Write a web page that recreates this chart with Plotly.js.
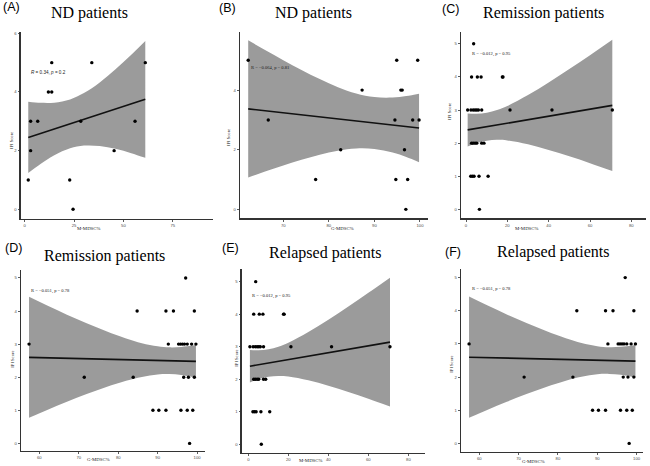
<!DOCTYPE html>
<html><head><meta charset="utf-8">
<script src="https://cdn.plot.ly/plotly-3.0.1.min.js"></script>
<style>html,body{margin:0;padding:0;background:#fff}#chart{width:650px;height:466px}</style>
</head><body><div id="chart"></div>
<script>
// ---------- data ----------
const panelLabels = ["(A)", "(B)", "(C)", "(D)", "(E)", "(F)"];
const panelTitles = ["ND patients", "ND patients", "Remission patients", "Remission patients", "Relapsed patients", "Relapsed patients"];
const xTitles = ["M-MDSC%", "G-MDSC%", "M-MDSC%", "G-MDSC%", "M-MDSC%", "G-MDSC%"];
const yTitle = "IPI Score";
const corrTexts = ["<i>R</i> = 0.34, <i>p</i> = 0.2", "R = \u22120.064, p = 0.81", "R = \u22120.012, p = 0.95",
                   "R = \u22120.051, p = 0.78", "R = \u22120.012, p = 0.95", "R = \u22120.051, p = 0.78"];

// A: ND, M-MDSC
const ndM_x = [1.8, 3.0, 3.0, 6.6, 12.0, 13.7, 13.7, 22.8, 24.5, 28.4, 34.0, 45.3, 55.9, 61.1];
const ndM_y = [1, 3, 2, 3, 4, 4, 5, 1, 0, 3, 5, 2, 3, 5];
const fitA_x = [1.8, 61.1], fitA_y = [2.45, 3.75];
const bandA_x = [1.8, 8, 15, 23, 30, 38, 46, 54, 61.1];
const bandA_hi = [3.665, 3.630, 3.636, 3.747, 3.963, 4.327, 4.774, 5.271, 5.740];
const bandA_lo = [1.235, 1.542, 1.842, 2.081, 2.173, 2.159, 2.062, 1.915, 1.758];

// B: ND, G-MDSC
const ndG_x = [62.3, 66.7, 77.1, 82.6, 87.3, 94.5, 94.9, 94.7, 95.8, 96.1, 96.6, 96.9, 97.3, 98.4, 99.5, 99.8];
const ndG_y = [5, 3, 1, 2, 4, 3, 5, 1, 4, 4, 2, 0, 1, 3, 5, 3];
const fitB_x = [62.3, 99.8], fitB_y = [3.37, 2.73];
const bandB_x = [62.3, 66, 70, 74, 78, 82, 86, 90, 94, 97, 99.8];
const bandB_hi = [5.67, 5.347, 5.005, 4.676, 4.370, 4.099, 3.887, 3.766, 3.751, 3.800, 3.880];
const bandB_lo = [1.07, 1.267, 1.473, 1.664, 1.835, 1.969, 2.044, 2.028, 1.907, 1.756, 1.580];

// C: Remission, M-MDSC
const remM_x = [3.7, 2.7, 5.5, 7.3, 17.6, 17.9, 0.8, 2.4, 3.5, 4.4, 5.2, 6.0, 7.6, 21.3, 41.6, 70.8, 2.7, 3.5, 4.4, 5.2, 7.6, 8.7, 2.3, 3.1, 3.9, 6.3, 10.7, 6.5];
const remM_y = [5, 4, 4, 4, 4, 4, 3, 3, 3, 3, 3, 3, 3, 3, 3, 3, 2, 2, 2, 2, 2, 2, 1, 1, 1, 1, 1, 0];
const fitC_x = [0.8, 70.8], fitC_y = [2.40, 3.14];
const bandC_x = [0.8, 5, 10.1, 15, 20, 30, 40, 50, 60, 70.8];
const bandC_hi = [2.899, 2.890, 2.920, 2.999, 3.123, 3.452, 3.832, 4.237, 4.656, 5.122];
const bandC_lo = [1.901, 1.998, 2.076, 2.101, 2.083, 1.966, 1.796, 1.603, 1.396, 1.158];

// D: Remission, G-MDSC
const remG_x = [97.1, 84.8, 92.1, 94.0, 99.3, 57.4, 92.7, 95.3, 95.8, 96.3, 96.8, 97.5, 98.6, 99.7, 71.4, 83.8, 96.6, 97.8, 99.3, 88.8, 90.3, 92.1, 95.9, 97.5, 98.9, 98.1];
const remG_y = [5, 4, 4, 4, 4, 3, 3, 3, 3, 3, 3, 3, 3, 3, 2, 2, 2, 2, 2, 1, 1, 1, 1, 1, 1, 0];
const fitD_x = [57.4, 99.7], fitD_y = [2.60, 2.48];
const bandD_x = [57.4, 62, 67, 72, 77, 82, 86, 90, 93, 96, 99.7];
const bandD_hi = [4.428, 4.164, 3.889, 3.629, 3.386, 3.170, 3.028, 2.932, 2.902, 2.914, 2.970];
const bandD_lo = [0.772, 1.010, 1.257, 1.489, 1.702, 1.890, 2.010, 2.084, 2.096, 2.068, 1.990];

// E: Relapsed, M-MDSC
const relM_x = [3.7, 2.7, 5.5, 7.3, 17.6, 17.9, 0.8, 2.4, 3.5, 4.4, 5.2, 6.0, 7.6, 21.3, 41.6, 70.8, 2.7, 3.5, 4.4, 5.2, 7.6, 8.7, 2.3, 3.1, 3.9, 6.3, 10.7, 6.5];
const relM_y = [5, 4, 4, 4, 4, 4, 3, 3, 3, 3, 3, 3, 3, 3, 3, 3, 2, 2, 2, 2, 2, 2, 1, 1, 1, 1, 1, 0];
const fitE_x = [0.8, 70.8], fitE_y = [2.40, 3.14];
const bandE_x = [0.8, 5, 10.1, 15, 20, 30, 40, 50, 60, 70.8];
const bandE_hi = [2.899, 2.890, 2.920, 2.999, 3.123, 3.452, 3.832, 4.237, 4.656, 5.122];
const bandE_lo = [1.901, 1.998, 2.076, 2.101, 2.083, 1.966, 1.796, 1.603, 1.396, 1.158];

// F: Relapsed, G-MDSC
const relG_x = [97.1, 84.8, 92.1, 94.0, 99.3, 57.4, 92.7, 95.3, 95.8, 96.3, 96.8, 97.5, 98.6, 99.7, 71.4, 83.8, 96.6, 97.8, 99.3, 88.8, 90.3, 92.1, 95.9, 97.5, 98.9, 98.1];
const relG_y = [5, 4, 4, 4, 4, 3, 3, 3, 3, 3, 3, 3, 3, 3, 2, 2, 2, 2, 2, 1, 1, 1, 1, 1, 1, 0];
const fitF_x = [57.4, 99.7], fitF_y = [2.60, 2.48];
const bandF_x = [57.4, 62, 67, 72, 77, 82, 86, 90, 93, 96, 99.7];
const bandF_hi = [4.428, 4.164, 3.889, 3.629, 3.386, 3.170, 3.028, 2.932, 2.902, 2.914, 2.970];
const bandF_lo = [0.772, 1.010, 1.257, 1.489, 1.702, 1.890, 2.010, 2.084, 2.096, 2.068, 1.990];

// tick labels
const xTicks = [[0, 25, 50, 75], [70, 80, 90, 100], [0, 20, 40, 60, 80], [60, 70, 80, 90, 100], [0, 20, 40, 60, 80], [60, 70, 80, 90, 100]];
const yTicks = [[0, 2, 4, 6], [0, 2, 4], [0, 1, 2, 3, 4, 5], [0, 1, 2, 3, 4, 5], [0, 1, 2, 3, 4, 5], [0, 1, 2, 3, 4, 5]];

// ---------- layout geometry (pixels) ----------
const W = 650, H = 466;
const boxes = [ // [left, right, top, bottom]
  [20.7, 213, 31.7, 219], [240, 428, 31.7, 218.3], [461, 646, 31.7, 218.3],
  [21, 205, 270, 451], [241.7, 425, 269.3, 452.7], [461, 643.3, 269.3, 451.7]];
const xRanges = [[-2.03, 95.4], [60.5, 101.76], [-2.42, 87.1], [55.36, 102.0], [-3.3, 88.3], [55.35, 101.7]];
const yRanges = [[-0.33, 6.055], [-0.30, 5.96], [-0.27, 5.366], [-0.23, 5.24], [-0.26, 5.38], [-0.25, 5.25]];
const labelPos = [[0.5, 7], [216.7, 7.5], [440, 9], [3.3, 247.8], [220, 248.3], [443, 252]];
const titlePos = [[89.5, 13.5], [313.3, 13.5], [543, 13], [104.5, 256], [324.5, 253.5], [553.3, 251.5]];
const corrPos = [[29.3, 72.3], [249.3, 68], [470, 54.3], [29.3, 290.7], [250, 296], [470, 289.3]];
const yTitlePos = [[11, 141], [228, 138], [450, 112], [11.7, 359], [235.7, 358], [450.7, 364]];
const xTitlePos = [[88, 228.8], [342, 228], [526, 228.5], [98, 459], [310, 460], [533.3, 461]];

const sets = [
  [ndM_x, ndM_y, fitA_x, fitA_y, bandA_x, bandA_hi, bandA_lo],
  [ndG_x, ndG_y, fitB_x, fitB_y, bandB_x, bandB_hi, bandB_lo],
  [remM_x, remM_y, fitC_x, fitC_y, bandC_x, bandC_hi, bandC_lo],
  [remG_x, remG_y, fitD_x, fitD_y, bandD_x, bandD_hi, bandD_lo],
  [relM_x, relM_y, fitE_x, fitE_y, bandE_x, bandE_hi, bandE_lo],
  [relG_x, relG_y, fitF_x, fitF_y, bandF_x, bandF_hi, bandF_lo]];

const px = v => v / W, py = v => 1 - v / H;
const traces = [];
const layout = {
  width: W, height: H, margin: {l: 0, r: 0, t: 0, b: 0},
  paper_bgcolor: '#fff', plot_bgcolor: '#fff', showlegend: false,
  annotations: []
};
const SERIF = 'Liberation Serif';
const SANS = 'Liberation Sans';
const tickFont = {family: SANS, size: 4.2, color: '#4d4d4d'};

sets.forEach((s, i) => {
  const n = i + 1;
  const xa = 'x' + (n === 1 ? '' : n), ya = 'y' + (n === 1 ? '' : n);
  const [px_, py_, fx, fy, bx, bhi, blo] = s;
  traces.push({x: bx, y: blo, xaxis: xa, yaxis: ya, type: 'scatter', mode: 'lines',
    line: {width: 0, shape: 'spline', color: '#999'}, hoverinfo: 'skip'});
  traces.push({x: bx, y: bhi, xaxis: xa, yaxis: ya, type: 'scatter', mode: 'lines', fill: 'tonexty',
    fillcolor: '#9b9b9b', line: {width: 0, shape: 'spline', color: '#9b9b9b'}, hoverinfo: 'skip'});
  traces.push({x: fx, y: fy, xaxis: xa, yaxis: ya, type: 'scatter', mode: 'lines',
    line: {width: 1.6, color: '#111'}});
  traces.push({x: px_, y: py_, xaxis: xa, yaxis: ya, type: 'scatter', mode: 'markers',
    marker: {size: 3.4, color: '#000', symbol: 'circle'}});

  const b = boxes[i];
  const common = {showline: true, linecolor: '#333', linewidth: 1.4, ticks: 'outside', ticklen: 1.8,
    tickwidth: 0.8, tickcolor: '#333', tickfont: tickFont, showgrid: false, zeroline: false,
    fixedrange: true, tickmode: 'array'};
  layout['xaxis' + (n === 1 ? '' : n)] = Object.assign({}, common, {
    domain: [px(b[0]), px(b[1])], range: xRanges[i], anchor: ya,
    tickvals: xTicks[i], ticktext: xTicks[i].map(String)});
  layout['yaxis' + (n === 1 ? '' : n)] = Object.assign({}, common, {
    domain: [py(b[3]), py(b[2])], range: yRanges[i], anchor: xa,
    tickvals: yTicks[i], ticktext: yTicks[i].map(String)});

  const A = layout.annotations;
  A.push({text: panelLabels[i], xref: 'paper', yref: 'paper', x: px(labelPos[i][0]), y: py(labelPos[i][1]),
    xanchor: 'left', yanchor: 'middle', showarrow: false,
    font: {family: SANS, size: 12.5, color: '#000'}});
  A.push({text: panelTitles[i], xref: 'paper', yref: 'paper', x: px(titlePos[i][0]), y: py(titlePos[i][1]),
    xanchor: 'center', yanchor: 'middle', showarrow: false,
    font: {family: SERIF, size: 16, color: '#000'}});
  A.push({text: corrTexts[i], xref: 'paper', yref: 'paper', x: px(corrPos[i][0]), y: py(corrPos[i][1]),
    xanchor: 'left', yanchor: 'middle', showarrow: false,
    font: {family: i === 0 ? SANS : SERIF, size: 4.6, color: '#222'}});
  A.push({text: yTitle, xref: 'paper', yref: 'paper', x: px(yTitlePos[i][0]), y: py(yTitlePos[i][1]),
    xanchor: 'center', yanchor: 'middle', textangle: -90, showarrow: false,
    font: {family: SERIF, size: 4.6, color: '#222'}});
  A.push({text: xTitles[i], xref: 'paper', yref: 'paper', x: px(xTitlePos[i][0]), y: py(xTitlePos[i][1]),
    xanchor: 'center', yanchor: 'middle', showarrow: false,
    font: {family: SERIF, size: 4.8, color: '#222'}});
});

Plotly.newPlot('chart', traces, layout, {displayModeBar: false, staticPlot: true});
</script></body></html>
